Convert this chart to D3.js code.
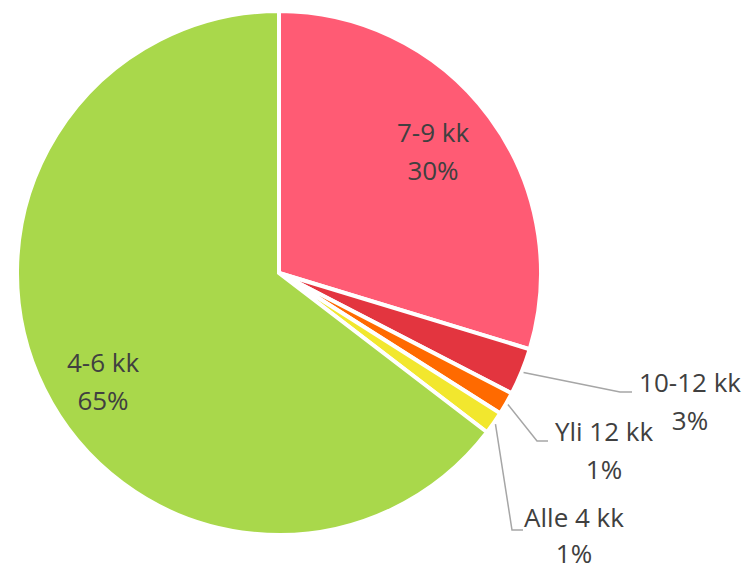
<!DOCTYPE html>
<html>
<head>
<meta charset="utf-8">
<script src="https://cdn.jsdelivr.net/npm/d3@7"></script>
<style>
  html, body { margin: 0; padding: 0; background: #fff; }
  svg { display: block; }
</style>
</head>
<body>
<svg width="750" height="570"></svg>
<script>
(function(d3) {
    "use strict";

// data, clockwise from 12 o'clock
var categories = ["7-9 kk", "10-12 kk", "Yli 12 kk", "Alle 4 kk", "4-6 kk"],
    shares = [29.7, 2.9, 1.4, 1.4, 64.6],
    colors = ["#ff5b74", "#e3353f", "#ff6a00", "#f2e72e", "#a9d84b"];

var svg = d3.select("svg"),
    cx = 279, cy = 273, radius = 262,
    textColor = "#404040",
    font = "'Open Sans', 'Noto Sans', sans-serif";

var slices = categories.map(function(c, i) {
    return { name: c, value: shares[i], color: colors[i] };
});

var pie = d3.pie().sort(null).value(function(d) { return d.value; }),
    arc = d3.arc().innerRadius(0).outerRadius(radius),
    arcs = pie(slices);

var g = svg.append("g").attr("transform", "translate(" + cx + "," + cy + ")");

g.selectAll("path.slice")
    .data(arcs)
    .enter().append("path")
    .attr("class", "slice")
    .attr("d", arc)
    .attr("fill", function(d) { return d.data.color; })
    .attr("stroke", "#fff")
    .attr("stroke-width", 4)
    .attr("stroke-linejoin", "miter");

// label placement: inside labels sit in the slice, outside ones get leader lines
var edgeArc = d3.arc().innerRadius(radius + 2).outerRadius(radius + 2),
    outside = {
        "10-12 kk": { x: 690, y: 383, elbow: [620, 392], end: 632 },
        "Yli 12 kk": { x: 604, y: 432, elbow: [537, 441], end: 548 },
        "Alle 4 kk": { x: 574, y: 518, elbow: [512, 530], end: 523 }
    },
    inside = {
        "7-9 kk": [433, 152],
        "4-6 kk": [103, 382]
    };

arcs.forEach(function(d) {
    var name = d.data.name,
        pct = Math.round(d.data.value) + "%",
        x, y;

    if (outside[name]) {
        var o = outside[name],
            p = edgeArc.centroid(d);
        svg.append("polyline")
            .attr("points", [[cx + p[0], cy + p[1]], o.elbow, [o.end, o.elbow[1]]].join(" "))
            .attr("fill", "none")
            .attr("stroke", "#a6a6a6")
            .attr("stroke-width", 1.5);
        x = o.x; y = o.y;
    } else {
        x = inside[name][0]; y = inside[name][1] - 19;
    }

    var gap = name === "Alle 4 kk" ? 36 : 38;
    var t = svg.append("text")
        .attr("x", x)
        .attr("text-anchor", "middle")
        .attr("font-family", font)
        .attr("font-size", 26)
        .attr("fill", textColor);
    t.append("tspan").attr("x", x).attr("y", y + 9).text(name);
    t.append("tspan").attr("x", x).attr("y", y + 9 + gap).text(pct);
});

}(d3));
</script>
</body>
</html>
